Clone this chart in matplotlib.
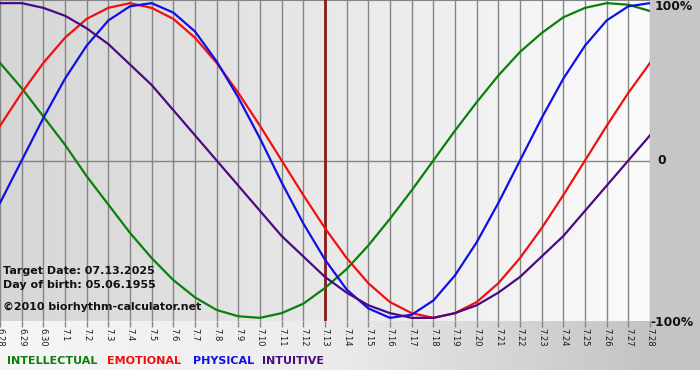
import numpy as np
import matplotlib
matplotlib.use('Agg')
from matplotlib import pyplot as plt
from matplotlib.colors import LinearSegmentedColormap

# days shown on the x axis (6.28 .. 7.28)
days = ['6.28', '6.29', '6.30'] + ['7.%d' % i for i in range(1, 29)]

intellectual = [0.62, 0.46, 0.28, 0.10, -0.10, -0.28, -0.46, -0.62, -0.76, -0.87,
                -0.95, -0.99, -1.00, -0.97, -0.91, -0.81, -0.69, -0.54, -0.37, -0.19,
                0.00, 0.19, 0.37, 0.54, 0.69, 0.81, 0.91, 0.97, 1.00, 0.99, 0.95]
emotional = [0.22, 0.43, 0.62, 0.78, 0.90, 0.97, 1.00, 0.97, 0.90, 0.78,
             0.62, 0.43, 0.22, 0.00, -0.22, -0.43, -0.62, -0.78, -0.90, -0.97,
             -1.00, -0.97, -0.90, -0.78, -0.62, -0.43, -0.22, 0.00, 0.22, 0.43, 0.62]
physical = [-0.27, 0.00, 0.27, 0.52, 0.73, 0.89, 0.98, 1.00, 0.94, 0.82,
            0.63, 0.40, 0.14, -0.14, -0.40, -0.63, -0.82, -0.94, -1.00, -0.98,
            -0.89, -0.73, -0.52, -0.27, 0.00, 0.27, 0.52, 0.73, 0.89, 0.98, 1.00]
intuitive = [1.00, 1.00, 0.97, 0.92, 0.84, 0.74, 0.61, 0.48, 0.32, 0.16,
             0.00, -0.16, -0.32, -0.48, -0.61, -0.74, -0.84, -0.92, -0.97, -1.00,
             -1.00, -0.97, -0.92, -0.84, -0.74, -0.61, -0.48, -0.32, -0.16, 0.00, 0.16]

target_day = '7.13'

W, H = 700, 380
fig = plt.figure(figsize=(7, 3.8), dpi=100, facecolor='white')

# background (pixel coords)
bg = fig.add_axes([0, 0, 1, 1])
bg.set_xlim(0, W)
bg.set_ylim(H, 0)
bg.axis('off')
bg.add_patch(plt.Rectangle((650, 0), 50, 321, color='#c6c6c6', lw=0))
grad_cm = LinearSegmentedColormap.from_list('g', ['#f6f6f6', '#ececec', '#c4c4c4'])
g = np.linspace(0, 1, 256).reshape(1, -1)
bg.imshow(g, cmap=grad_cm, extent=[0, 650, 370, 321], aspect='auto')
bg.add_patch(plt.Rectangle((650, 321), 50, 49, color='#c4c4c4', lw=0))

# main chart
ax = fig.add_axes([0, 1 - 321 / H, 650 / W, 321 / H])
x = np.arange(len(days))
ylo, yhi = -1.02, 1.02
plot_cm = LinearSegmentedColormap.from_list('p', ['#d6d6d6', '#fbfbfb'])
ax.imshow(g, cmap=plot_cm, extent=[0, len(days) - 1, ylo, yhi], aspect='auto', zorder=0)
ax.set_xlim(0, len(days) - 1)
ax.set_ylim(ylo, yhi)

for xi in x:
    ax.axvline(xi, color='#858585', lw=1, zorder=1)
ax.axhline(0, color='#858585', lw=1, zorder=1)
ax.axhline(yhi, color='#858585', lw=1.5, zorder=1)
ax.axvline(days.index(target_day), color='#8b1a1a', lw=2, zorder=2)

ax.plot(x, intellectual, color='#0a800a', lw=1.6, zorder=3)
ax.plot(x, emotional, color='#f01010', lw=1.6, zorder=3)
ax.plot(x, physical, color='#1010e6', lw=1.6, zorder=3)
ax.plot(x, intuitive, color='#4b0a82', lw=1.6, zorder=3)

for s in ax.spines.values():
    s.set_visible(False)
ax.set_yticks([])
ax.set_xticks(x)
ax.set_xticklabels(days, rotation=-90, fontsize=6, color='#1a1a1a', va='top')
ax.tick_params(axis='x', length=4, width=1, color='#858585', pad=1)

# right labels
fig.text(655 / W, 1 - 6 / H, '100%', fontsize=8.8, fontweight='bold', va='center', color='#111111')
fig.text(657 / W, 1 - 161 / H, '0', fontsize=8.8, fontweight='bold', va='center', color='#111111')
fig.text(650 / W, 1 - 322 / H, '-100%', fontsize=8.8, fontweight='bold', va='center', color='#111111')

# info text
fig.text(3 / W, 1 - 271 / H, 'Target Date: 07.13.2025', fontsize=8, fontweight='bold',
         va='center', color='#111111')
fig.text(3 / W, 1 - 285 / H, 'Day of birth: 05.06.1955', fontsize=8, fontweight='bold',
         va='center', color='#111111')
fig.text(3 / W, 1 - 307 / H, '\u00a92010 biorhythm-calculator.net', fontsize=7.9, fontweight='bold',
         va='center', color='#111111')

# legend
legend = [('INTELLECTUAL', '#0a800a', 7), ('EMOTIONAL', '#f01010', 107),
          ('PHYSICAL', '#1010e6', 193), ('INTUITIVE', '#4b0a82', 262)]
for name, col, px in legend:
    fig.text(px / W, 1 - 361 / H, name, fontsize=8, fontweight='bold', color=col, va='center')

fig.savefig('out.png', dpi=100, facecolor='white')
